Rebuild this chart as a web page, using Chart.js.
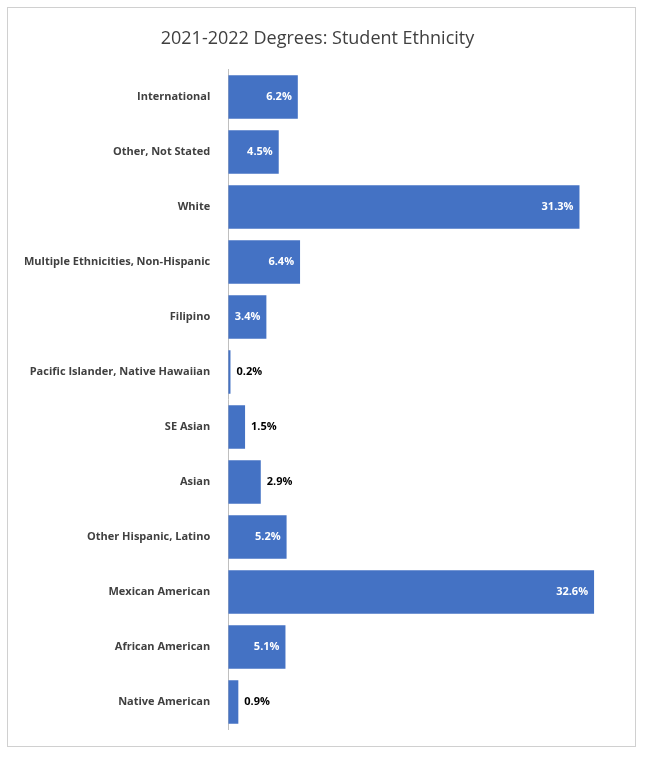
<!DOCTYPE html>
<html><head><meta charset="utf-8">
<script src="https://cdn.jsdelivr.net/npm/chart.js@4"></script>
<style>
html,body{margin:0;padding:0;background:#fff;}
#wrap{position:absolute;left:7px;top:7px;width:629px;height:740px;border:1px solid #d0d0d0;box-sizing:border-box;}
</style></head><body>
<div id="wrap"><canvas id="c"></canvas></div>
<script>
const categories = ["International","Other, Not Stated","White","Multiple Ethnicities, Non-Hispanic","Filipino","Pacific Islander, Native Hawaiian","SE Asian","Asian","Other Hispanic, Latino","Mexican American","African American","Native American"];
const values = [6.2,4.5,31.3,6.4,3.4,0.2,1.5,2.9,5.2,32.6,5.1,0.9];
const title = "2021-2022 Degrees: Student Ethnicity";

const labelPlugin = {
  id:'vals',
  afterDatasetsDraw(chart){
    const ctx=chart.ctx, meta=chart.getDatasetMeta(0);
    ctx.save();
    ctx.font="bold 11px 'Open Sans', sans-serif";
    ctx.textBaseline='middle';
    meta.data.forEach((bar,i)=>{
      const v=values[i], t=v.toFixed(1)+'%';
      if(v>=3.4){ctx.fillStyle='#fff';ctx.textAlign='right';ctx.fillText(t,bar.x-6,bar.y);}
      else{ctx.fillStyle='#000';ctx.textAlign='left';ctx.fillText(t,bar.x+6,bar.y);}
    });
    ctx.restore();
  }
};

new Chart(document.getElementById('c'),{
  type:'bar',
  data:{labels:categories,datasets:[{data:values,backgroundColor:'#4472C4',barPercentage:0.79,categoryPercentage:1}]},
  options:{
    indexAxis:'y',responsive:true,maintainAspectRatio:false,animation:false,
    layout:{padding:{left:6,right:14,top:0,bottom:10}},
    plugins:{legend:{display:false},tooltip:{enabled:false},
      title:{display:true,text:title,color:'#404040',font:{family:"'Open Sans', sans-serif",size:18,weight:'normal'},padding:{top:20,bottom:20}}},
    scales:{
      x:{display:false,min:0,max:35},
      y:{grid:{display:false},border:{display:true,color:'#bfbfbf'},
        ticks:{color:'#404040',font:{family:"'Open Sans', sans-serif",size:11,weight:'bold'},padding:10}}
    }
  },
  plugins:[labelPlugin]
});
</script></body></html>
